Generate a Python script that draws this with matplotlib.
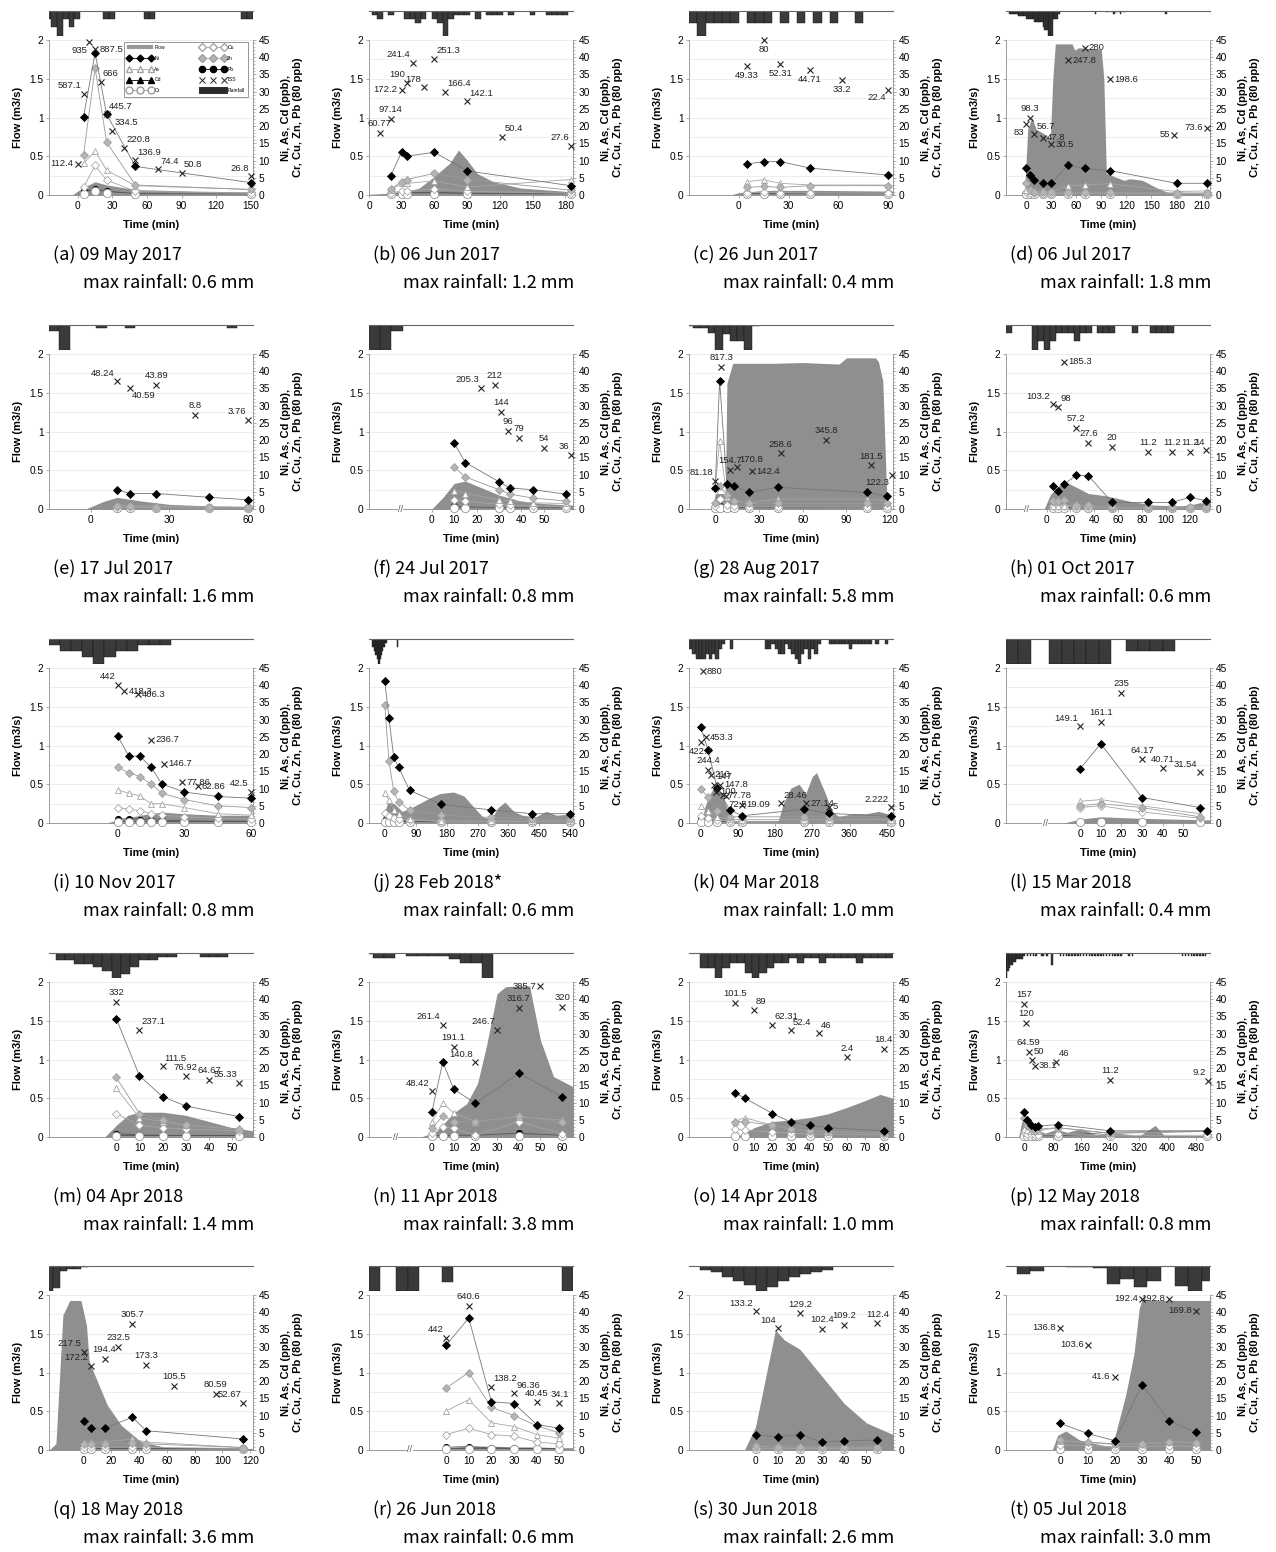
import matplotlib
matplotlib.use("Agg")
import matplotlib.pyplot as plt
from matplotlib.lines import Line2D
from matplotlib.ticker import MultipleLocator

plt.rcParams['font.family'] = ['Liberation Sans', 'DejaVu Sans']

PANELS = list('abcdefghijklmnopqrst')
DATES = ['09 May 2017', '06 Jun 2017', '26 Jun 2017', '06 Jul 2017',
         '17 Jul 2017', '24 Jul 2017', '28 Aug 2017', '01 Oct 2017',
         '10 Nov 2017', '28 Feb 2018*', '04 Mar 2018', '15 Mar 2018',
         '04 Apr 2018', '11 Apr 2018', '14 Apr 2018', '12 May 2018',
         '18 May 2018', '26 Jun 2018', '30 Jun 2018', '05 Jul 2018']
MAX_RAIN = [0.6, 1.2, 0.4, 1.8, 1.6, 0.8, 5.8, 0.6, 0.8, 0.6,
            1.0, 0.4, 1.4, 3.8, 1.0, 0.8, 3.6, 0.6, 2.6, 3.0]

XLIM = [(-25, 152), (0, 187), (-30, 93), (-24, 220), (-16, 62),
        (-28, 63), (-18, 122), (-34, 137), (-31, 61), (-46, 548),
        (-28, 465), (-36, 63), (-29, 59), (-29, 65), (-25, 85),
        (-50, 518), (-25, 122), (-34, 56), (-30, 62), (-20, 55)]
XTICKS = [[0, 30, 60, 90, 120, 150], [0, 30, 60, 90, 120, 150, 180],
          [0, 30, 60, 90], [0, 30, 60, 90, 120, 150, 180, 210],
          [0, 30, 60], [0, 10, 20, 30, 40, 50], [0, 30, 60, 90, 120],
          [0, 20, 40, 60, 80, 100, 120], [0, 30, 60],
          [0, 90, 180, 270, 360, 450, 540], [0, 90, 180, 270, 360, 450],
          [0, 10, 20, 30, 40, 50], [0, 10, 20, 30, 40, 50],
          [0, 10, 20, 30, 40, 50, 60], [0, 10, 20, 30, 40, 50, 60, 70, 80],
          [0, 80, 160, 240, 320, 400, 480], [0, 20, 40, 60, 80, 100, 120],
          [0, 10, 20, 30, 40, 50], [0, 10, 20, 30, 40, 50],
          [0, 10, 20, 30, 40, 50]]
BREAK_X = [None, None, None, None, None, -14, None, -17, None, None,
           None, -17, None, -17, None, None, None, -16, None, None]

# flow hydrograph (m3/s)
FLOW_T = [
    [-25, -5, 5, 15, 25, 50, 100, 152],
    [0, 30, 46, 60, 74, 82, 90, 99, 114, 139, 187],
    [-30, -5, 0, 10, 20, 45, 93],
    [-24, -2, 2, 7, 12, 20, 29, 32, 35, 55, 58, 63, 90, 93, 96, 105, 117, 124, 139, 155, 170, 220],
    [-16, -2, 5, 10, 20, 30, 45, 62],
    [-28, 0, 5, 10, 15, 20, 30, 40, 50, 63],
    [-18, -2, 0, 7, 8, 12, 40, 60, 85, 90, 110, 112, 115, 118, 122],
    [-34, -2, 3, 10, 17, 25, 35, 50, 70, 90, 110, 120, 128, 137],
    [-31, -5, 0, 10, 20, 30, 45, 61],
    [-46, -3, 0, 10, 30, 50, 70, 100, 130, 160, 200, 230, 260, 285, 310, 330, 350, 375, 400, 440, 470, 500, 548],
    [-28, 3, 10, 20, 35, 50, 70, 85, 186, 200, 218, 238, 254, 270, 280, 300, 318, 334, 366, 400, 430, 465],
    [-36, -8, 0, 10, 20, 30, 45, 63],
    [-29, -5, 0, 5, 10, 20, 30, 40, 50, 59],
    [-29, -5, 2, 10, 16, 21, 25, 30, 34, 40, 45, 50, 56, 65],
    [-25, 0, 5, 10, 20, 30, 40, 50, 60, 70, 78, 85],
    [-50, -15, -5, 5, 20, 40, 60, 90, 120, 160, 200, 240, 280, 320, 350, 365, 390, 420, 518],
    [-25, -20, -15, -10, -2, 2, 4, 10, 17, 27, 41, 60, 122],
    [-34, -3, 0, 10, 20, 30, 40, 50, 56],
    [-30, -5, 0, 5, 9, 13, 20, 30, 40, 50, 62],
    [-20, -3, -1, 2, 7, 15, 19, 24, 27, 29, 30, 40, 55],
]
FLOW_Q = [
    [0, 0, 0.1, 0.17, 0.13, 0.07, 0.05, 0.04],
    [0.01, 0.03, 0.09, 0.24, 0.41, 0.58, 0.45, 0.28, 0.17, 0.09, 0.04],
    [0, 0, 0.03, 0.05, 0.06, 0.06, 0.05],
    [0, 0, 0.85, 1.0, 0.85, 0.8, 0.73, 1.5, 1.95, 1.95, 1.87, 1.9, 1.88, 1.5, 0.28, 0.24, 0.19, 0.21, 0.19, 0.1, 0.03, 0.01],
    [0, 0, 0.1, 0.15, 0.1, 0.06, 0.04, 0.03],
    [0, 0, 0.15, 0.33, 0.36, 0.3, 0.18, 0.1, 0.07, 0.05],
    [0, 0, 0.2, 0.2, 1.62, 1.88, 1.88, 1.89, 1.87, 1.95, 1.95, 1.9, 1.65, 0, 0],
    [0, 0, 0.18, 0.3, 0.34, 0.28, 0.2, 0.17, 0.1, 0.05, 0.04, 0.05, 0.08, 0.08],
    [0, 0, 0.04, 0.1, 0.14, 0.12, 0.1, 0.1],
    [0, 0, 0.15, 0.28, 0.24, 0.15, 0.18, 0.25, 0.32, 0.38, 0.4, 0.35, 0.2, 0.08, 0.05, 0.2, 0.27, 0.15, 0.1, 0.08, 0.15, 0.1, 0.12],
    [0, 0, 0.2, 0.35, 0.48, 0.4, 0.1, 0, 0, 0.25, 0.45, 0.5, 0.38, 0.6, 0.65, 0.4, 0.15, 0.08, 0.12, 0.12, 0.15, 0.1],
    [0, 0, 0.05, 0.08, 0.07, 0.06, 0.05, 0.04],
    [0, 0, 0.15, 0.28, 0.32, 0.32, 0.28, 0.2, 0.12, 0.08],
    [0, 0, 0.07, 0.31, 0.43, 0.69, 1.16, 1.85, 1.94, 1.95, 1.95, 1.25, 0.78, 0.65],
    [0, 0, 0.05, 0.12, 0.2, 0.22, 0.25, 0.3, 0.38, 0.47, 0.55, 0.5],
    [0, 0, 0.22, 0.15, 0.1, 0.08, 0.05, 0.1, 0.06, 0.11, 0.03, 0.06, 0.04, 0.01, 0.1, 0.15, 0.02, 0.02, 0.02],
    [0, 0.08, 1.74, 1.93, 1.93, 1.61, 1.14, 0.88, 0.58, 0.32, 0.11, 0.03, 0.02],
    [0, 0, 0.03, 0.05, 0.05, 0.04, 0.04, 0.03, 0.03],
    [0, 0, 0.3, 1.0, 1.55, 1.42, 1.3, 0.95, 0.6, 0.35, 0.2],
    [0, 0, 0.19, 0.245, 0.13, 0.065, 0.04, 0.71, 1.23, 1.83, 1.94, 1.93, 1.93],
]

# metal sampling times (min) and concentrations on the right axis scale
MT = [
    [5, 15, 25, 50, 150], [20, 30, 35, 60, 90, 185], [5, 15, 25, 43, 90],
    [0, 5, 10, 20, 30, 50, 70, 100, 180, 217], [10, 15, 25, 45, 60],
    [10, 15, 30, 35, 45, 60], [0, 3, 8, 13, 23, 43, 104, 118],
    [5, 10, 15, 25, 35, 55, 85, 105, 120, 134], [0, 5, 10, 15, 20, 30, 45, 60],
    [0, 12, 26, 40, 72, 165, 310, 430, 540], [0, 18, 40, 70, 100, 250, 310, 460],
    [0, 10, 30, 58], [0, 10, 20, 30, 53], [0, 5, 10, 20, 40, 60],
    [0, 5, 20, 30, 40, 50, 80], [0, 9, 21, 30, 39, 95, 240, 511],
    [0, 5, 15, 35, 45, 115], [0, 10, 20, 30, 40, 50], [0, 10, 20, 30, 40, 55],
    [0, 10, 20, 30, 40, 50],
]
NI = [
    [22.7, 41.2, 23.4, 8.3, 3.6], [5.6, 12.6, 11.3, 12.4, 7.0, 2.7], [9.0, 9.7, 9.7, 7.8, 5.8],
    [7.7, 5.8, 4.4, 3.4, 3.4, 8.7, 7.7, 7.1, 3.4, 3.4], [5.6, 4.5, 4.5, 3.4, 2.7],
    [19.1, 13.5, 7.9, 6.1, 5.6, 4.3], [6.1, 37.3, 7.4, 6.8, 4.8, 6.3, 4.8, 3.8],
    [6.6, 5.1, 7.3, 9.8, 9.7, 1.9, 1.9, 1.9, 3.4, 2.4], [25.2, 19.4, 19.4, 16.2, 11.3, 9.0, 7.7, 7.2],
    [41.2, 30.6, 19.1, 16.2, 9.5, 5.4, 3.8, 2.7, 2.7], [27.8, 21.3, 10.2, 3.9, 2.1, 4.0, 2.8, 1.9],
    [15.8, 23.0, 7.4, 4.5], [34.4, 17.8, 11.7, 9.0, 5.9], [7.3, 21.8, 13.9, 9.8, 18.5, 11.7],
    [12.8, 11.3, 6.8, 4.3, 3.4, 2.7, 1.8], [7.2, 5.0, 3.6, 2.9, 3.2, 3.6, 1.8, 1.8],
    [8.4, 6.3, 6.3, 9.5, 5.6, 3.2], [30.4, 38.3, 14.0, 13.5, 7.4, 6.3], [4.5, 3.8, 4.5, 2.3, 2.7, 2.9],
    [7.7, 4.8, 2.7, 18.9, 8.4, 5.1],
]
CU = [
    [2.2, 8.6, 4.3, 1.1, 0.5], [0.7, 1.1, 1.1, 1.8, 1.1, 0.5], [0.7, 0.8, 0.7, 0.6, 0.5],
    [1.0, 0.6, 0.5, 0.4, 0.4, 0.5, 0.5, 0.5, 0.4, 0.4], [0.5, 0.5, 0.4, 0.3, 0.3],
    [2.7, 2.3, 1.4, 1.1, 0.9, 0.7], [1.0, 3.0, 1.2, 0.8, 0.6, 0.6, 0.5, 0.5],
    [0.8, 0.8, 0.8, 0.5, 0.5, 0.3, 0.3, 0.3, 0.3, 0.3], [4.5, 4.0, 3.6, 2.7, 2.3, 1.8, 1.4, 1.1],
    [2.9, 2.0, 1.5, 1.2, 0.8, 0.5, 0.5, 0.5, 0.5], [2.0, 1.5, 1.0, 0.5, 0.5, 0.5, 0.5, 0.5],
    [4.5, 5.0, 3.2, 1.4], [6.8, 3.4, 2.7, 2.3, 1.8], [1.1, 3.0, 2.5, 0.5, 4.5, 0.9],
    [2.3, 2.0, 1.5, 1.1, 0.9, 0.8, 0.6], [1.5, 1.0, 0.8, 0.7, 0.7, 0.8, 0.5, 0.5],
    [0.8, 0.8, 0.8, 0.9, 0.8, 0.4], [4.5, 6.3, 4.5, 4.0, 2.3, 1.8], [0.6, 0.6, 0.6, 0.6, 0.6, 0.6],
    [1.5, 1.2, 1.0, 1.0, 1.2, 1.0],
]
ZN = [
    [11.7, 36.9, 15.3, 2.9, 1.6], [1.8, 3.8, 4.5, 6.3, 4.5, 1.4], [2.2, 2.5, 2.2, 2.7, 2.7],
    [3.4, 1.5, 1.0, 0.8, 0.8, 0.8, 0.8, 0.8, 0.6, 0.6], [0.9, 0.8, 0.7, 0.5, 0.5],
    [12.2, 9.3, 5.6, 4.3, 3.2, 2.3], [1.8, 6.7, 4.0, 2.3, 1.6, 1.6, 1.6, 1.6],
    [2.2, 2.2, 2.7, 1.1, 1.1, 0.5, 0.5, 0.5, 0.5, 0.5], [16.2, 14.6, 13.5, 11.3, 8.6, 6.8, 5.0, 4.5],
    [34.2, 18.0, 9.2, 6.1, 3.8, 2.3, 1.6, 1.1, 1.1], [9.9, 7.5, 3.6, 1.8, 1.8, 1.8, 1.8, 1.8],
    [5.0, 5.6, 4.5, 1.8], [17.3, 6.8, 5.0, 3.4, 2.3], [2.5, 6.1, 4.5, 4.3, 6.1, 4.3],
    [4.5, 4.5, 3.4, 2.3, 1.8, 1.6, 1.1], [5.6, 3.4, 2.3, 1.8, 2.3, 2.7, 1.1, 1.6],
    [1.8, 1.8, 1.8, 2.0, 1.8, 0.7], [18.0, 22.5, 12.4, 10.0, 7.0, 5.0], [1.2, 1.0, 1.0, 0.8, 0.9, 0.9],
    [2.9, 2.3, 1.8, 1.8, 2.3, 2.0],
]
AS = [
    [9.2, 12.8, 7.2, 2.7, 1.6], [1.4, 3.4, 3.4, 4.1, 2.3, 4.5], [3.9, 4.4, 3.4, 2.9, 2.9],
    [1.5, 1.2, 1.2, 1.0, 1.0, 2.7, 2.9, 3.3, 1.0, 1.2], [1.2, 1.0, 0.9, 0.6, 0.5],
    [5.2, 4.5, 2.7, 2.3, 1.8, 1.6], [6.3, 19.6, 3.4, 2.3, 1.8, 2.9, 2.9, 2.3],
    [1.0, 1.0, 1.0, 0.8, 0.8, 0.5, 0.5, 0.5, 0.5, 0.5], [9.7, 8.6, 7.9, 5.6, 5.6, 4.5, 2.7, 2.3],
    [8.6, 6.8, 3.8, 2.7, 1.1, 0.5, 0.5, 0.5, 0.5], [4.9, 3.6, 1.8, 1.1, 1.0, 1.0, 1.0, 1.0],
    [6.3, 6.8, 5.0, 2.7], [14.2, 5.6, 4.5, 3.4, 2.3], [4.5, 9.8, 7.0, 4.5, 5.9, 4.9],
    [4.5, 5.6, 3.4, 2.3, 1.8, 1.4, 1.1], [2.3, 2.0, 1.8, 1.6, 1.8, 2.7, 1.1, 1.8],
    [2.3, 2.3, 2.3, 3.2, 2.3, 0.7], [11.3, 14.6, 7.9, 6.8, 4.5, 3.4], [1.0, 0.9, 0.9, 0.8, 0.8, 0.8],
    [2.6, 2.2, 1.6, 1.8, 2.4, 2.2],
]
CD = [
    [1.0, 1.5, 1.0, 0.3, 0.2], [0.4, 0.5, 0.5, 0.6, 0.4, 0.2], [0.3, 0.3, 0.3, 0.3, 0.3],
    [0.3, 0.3, 0.3, 0.3, 0.3, 0.3, 0.3, 0.3, 0.3, 0.3], [0.2, 0.2, 0.2, 0.2, 0.2],
    [0.4, 0.4, 0.3, 0.3, 0.3, 0.2], [0.3, 0.3, 0.3, 0.3, 0.3, 0.3, 0.3, 0.3],
    [0.3, 0.3, 0.3, 0.3, 0.3, 0.2, 0.2, 0.2, 0.2, 0.2], [0.5, 0.5, 0.5, 0.5, 0.5, 0.5, 0.5, 0.5],
    [1.8, 1.8, 1.8, 1.8, 0.3, 0.2, 0.2, 0.2, 0.2], [1.1, 1.1, 0.5, 0.3, 0.3, 0.3, 0.3, 0.3],
    [0.3, 0.3, 0.3, 0.3], [0.5, 0.5, 0.5, 0.5, 0.5], [0.3, 0.3, 0.3, 0.3, 0.3, 0.3],
    [0.3, 0.3, 0.3, 0.3, 0.3, 0.3, 0.3], [0.5, 0.4, 0.3, 0.3, 0.3, 0.3, 1.4, 1.6],
    [0.3, 0.3, 0.3, 0.3, 0.3, 0.3], [0.5, 0.5, 0.5, 0.5, 0.5, 0.5], [0.3, 0.3, 0.3, 0.3, 0.3, 0.3],
    [0.3, 0.3, 0.3, 0.3, 0.3, 0.3],
]
PB = [
    [1.1, 1.6, 1.1, 0.4, 0.2], [0.5, 0.6, 0.6, 0.8, 0.5, 0.3], [0.4, 0.4, 0.4, 0.3, 0.3],
    [0.4, 0.4, 0.4, 0.4, 0.4, 0.4, 0.4, 0.4, 0.4, 0.4], [0.3, 0.3, 0.3, 0.3, 0.3],
    [0.8, 0.6, 0.4, 0.4, 0.3, 0.3], [0.6, 1.0, 0.5, 0.4, 0.4, 0.4, 0.4, 0.4],
    [0.4, 0.4, 0.4, 0.4, 0.4, 0.3, 0.3, 0.3, 0.3, 0.3], [1.2, 1.2, 1.0, 1.0, 0.8, 0.6, 0.5, 0.5],
    [0.5, 0.5, 0.5, 0.5, 0.5, 0.5, 0.5, 0.5, 0.5], [1.3, 1.0, 0.6, 0.4, 0.3, 0.3, 0.3, 0.3],
    [0.4, 0.4, 0.4, 0.4], [1.0, 0.6, 0.5, 0.4, 0.3], [0.4, 0.5, 0.5, 0.5, 1.1, 0.5],
    [0.4, 0.4, 0.4, 0.4, 0.4, 0.4, 0.4], [0.4, 0.4, 0.4, 0.4, 0.4, 0.4, 0.4, 0.4],
    [0.5, 0.5, 0.5, 0.5, 0.5, 0.5], [0.8, 1.0, 0.6, 0.5, 0.4, 0.4], [0.4, 0.4, 0.4, 0.4, 0.4, 0.4],
    [0.4, 0.4, 0.4, 0.4, 0.4, 0.4],
]
CR = [
    [0.3, 1.1, 0.7, 0.2, 0.2], [0.2, 0.3, 0.3, 0.3, 0.2, 0.2], [0.2, 0.2, 0.2, 0.2, 0.2],
    [0.2, 0.2, 0.2, 0.2, 0.2, 0.2, 0.2, 0.2, 0.2, 0.2], [0.2, 0.2, 0.2, 0.2, 0.2],
    [0.3, 0.3, 0.2, 0.2, 0.2, 0.2], [0.2, 0.2, 0.2, 0.2, 0.2, 0.2, 0.2, 0.2],
    [0.2, 0.2, 0.2, 0.2, 0.2, 0.2, 0.2, 0.2, 0.2, 0.2], [0.3, 0.3, 0.3, 0.3, 0.3, 0.3, 0.3, 0.3],
    [0.3, 0.3, 0.3, 0.3, 0.3, 0.3, 0.3, 0.3, 0.3], [0.3, 0.3, 0.3, 0.3, 0.3, 0.3, 0.3, 0.3],
    [0.2, 0.2, 0.2, 0.2], [0.3, 0.3, 0.3, 0.3, 0.3], [0.2, 0.2, 0.2, 0.2, 0.2, 0.2],
    [0.2, 0.2, 0.2, 0.2, 0.2, 0.2, 0.2], [0.2, 0.2, 0.2, 0.2, 0.2, 0.2, 0.2, 0.2],
    [0.2, 0.2, 0.2, 0.2, 0.2, 0.2], [0.3, 0.3, 0.3, 0.3, 0.3, 0.3], [0.2, 0.2, 0.2, 0.2, 0.2, 0.2],
    [0.2, 0.2, 0.2, 0.2, 0.2, 0.2],
]

# TSS (mg/L), plotted on a hidden axis per event
TSS_T = [
    [0, 5, 10, 15, 20, 25, 30, 40, 50, 70, 90, 150],
    [10, 20, 30, 35, 40, 50, 60, 70, 90, 122, 185],
    [5, 15, 25, 43, 62, 90],
    [0, 5, 10, 20, 30, 50, 70, 100, 177, 217],
    [10, 15, 25, 40, 60],
    [22, 28, 31, 34, 39, 50, 62],
    [0, 4, 10, 15, 25, 45, 76, 107, 121],
    [5, 10, 15, 25, 35, 55, 85, 105, 120, 134],
    [0, 3, 9, 15, 21, 29, 36, 60],
    [],
    [0, 5, 12, 18, 24, 32, 38, 46, 55, 62, 100, 195, 255, 310, 460],
    [0, 10, 20, 30, 40, 58],
    [0, 10, 20, 30, 40, 53],
    [0, 5, 10, 20, 30, 40, 50, 60],
    [0, 10, 20, 30, 45, 60, 80],
    [0, 5, 13, 22, 30, 90, 240, 512],
    [0, 5, 15, 25, 35, 45, 65, 95, 115],
    [0, 10, 20, 30, 40, 50],
    [0, 10, 20, 30, 40, 55],
    [0, 10, 20, 30, 40, 50],
]
TSS = [
    [112.4, 587.1, 935, 887.5, 666, 445.7, 334.5, 220.8, 136.9, 74.4, 50.8, 26.8],
    [60.77, 97.14, 172.2, 190, 241.4, 178, 251.3, 166.4, 142.1, 50.4, 27.6],
    [49.33, 80, 52.31, 44.71, 33.2, 22.4],
    [83, 98.3, 56.7, 47.8, 30.5, 247.8, 280, 198.6, 55, 73.6],
    [48.24, 40.59, 43.89, 8.8, 3.76],
    [205.3, 212, 144, 96, 79, 54, 36],
    [81.18, 817.3, 154.7, 170.8, 142.4, 258.6, 345.8, 181.5, 122.3],
    [103.2, 98, 185.3, 57.2, 27.6, 20, 11.2, 11.2, 11.2, 14],
    [442, 418.3, 406.3, 236.7, 146.7, 77.86, 62.86, 42.5],
    [],
    [422.7, 880, 453.3, 244.4, 210, 147, 100, 147.8, 77.78, 72.5, 19.09, 28.46, 27.14, 5, 2.222],
    [149.1, 161.1, 235, 64.17, 40.71, 31.54],
    [332, 237.1, 111.5, 76.92, 64.67, 55.33],
    [48.42, 261.4, 191.1, 140.8, 246.7, 316.7, 385.7, 320],
    [101.5, 89, 62.31, 52.4, 46, 2.4, 18.4],
    [157, 120, 64.59, 50, 38.1, 46, 11.2, 9.2],
    [217.5, 172.2, 194.4, 232.5, 305.7, 173.3, 105.5, 80.59, 52.67],
    [442, 640.6, 138.2, 96.36, 40.45, 34.1],
    [133.2, 104, 129.2, 102.4, 109.2, 112.4],
    [136.8, 103.6, 41.6, 192.4, 192.8, 169.8],
]
TSS_LIM = [(-100, 950), (-100, 300), (-100, 80), (-100, 300), (-100, 80),
           (-100, 290), (-100, 900), (-100, 200), (-75, 505), (-100, 100),
           (-100, 900), (-100, 300), (-130, 400), (-100, 400), (-143, 140),
           (-100, 200), (-100, 400), (-255, 708), (-100, 160), (-100, 200)]

# rainfall bins: start time (min), bin width, depth (mm)
RAIN_DT = [5, 5, 5, 2, 4, 5, 5, 5, 5, 3, 8, 6, 4, 5, 4, 4, 5, 5, 5, 5]
RAIN_T = [
    [-28, -23, -18, -13, -8, -3, 22, 27, 57, 62, 142, 147],
    [2.5, 7.5, 17.5, 32.5, 37.5, 42.5, 47.5, 57.5, 62.5, 67.5, 72.5, 77.5, 82.5, 87.5, 97.5,
     107.5, 112.5, 117.5, 127.5, 147.5, 162.5, 167.5, 172.5, 177.5],
    [-30, -25, -20, -15, -10, -5, 5, 10, 15, 25, 35, 45, 55, 70],
    [-20, -18, -16, -14, -12, -10, -8, -6, -4, -2, 0, 2, 4, 6, 8, 10, 12, 14, 16, 18, 20, 22,
     24, 26, 28, 30, 32, 34, 36, 38, 82, 96, 100, 104, 108, 112, 116, 166],
    [-16, -12, 2, 13, 52],
    [-28, -23, -18],
    [-20, -15, -10, -5, 0, 5, 10, 15, 20, 25],
    [-34, -12, -7, -2, 3, 8, 13, 18, 23, 28, 33, 42, 47, 52, 72, 87, 92, 97, 102],
    [-31, -26, -21, -16, -11, -6, -1, 4, 9, 14, 19],
    [-38, -35, -32, -29, -26, -23, -20, -17, -14, -11, -8, -5, -2, 1, 4, 36],
    [-28, -20, -12, -4, 4, 12, 20, 28, 36, 44, 52, 70, 155, 163, 171, 179, 187, 195, 203, 211,
     219, 227, 235, 243, 251, 259, 267, 275, 283, 310, 318, 326, 334, 342, 350, 358, 366, 374,
     382, 390, 398, 406, 422, 445],
    [-36, -30, -15, -9, -3, 3, 9, 22, 28, 34, 40],
    [-26, -22, -18, -14, -10, -6, -2, 2, 6, 10, 14, 18, 22, 36, 40, 44],
    [-31, -27, -22, -12, -7, -2, 3, 8, 13, 18, 23],
    [-19, -15, -11, -7, -3, 1, 5, 9, 13, 17, 21, 25, 29, 33, 37, 41, 45, 49, 53, 57, 61, 65,
     69, 73, 77, 81],
    [-50, -46, -42, -38, -34, -30, -26, -22, -18, -14, -10, -6, -2, 8, 16, 24, 32, 48, 52, 60,
     64, 76, 100, 108, 116, 124, 132, 140, 148, 156, 164, 172, 180, 188, 196, 204, 212, 220,
     228, 236, 244, 252, 260, 268, 290, 300, 440, 448, 456, 464, 472, 480, 488, 496, 504],
    [-27, -22, -17, -12, -7, -2],
    [-34, -22, -17, -2, 51],
    [-25, -20, -15, -10, -5, 0, 5, 10, 15, 20, 25, 30],
    [-16, -11, 2, 7, 12, 17, 22, 27, 32, 42, 47, 52],
]
RAIN = [
    [.2, .4, .6, .2, .4, .2, .2, .2, .2, .2, .2, .2],
    [.2, .4, .2, .4, .4, .6, .4, .4, .6, 1.2, .4, .2, .2, .2, .4, .2, .2, .2, .2, .2, .2, .2,
     .2, .2],
    [.2, .4, .2, .2, .2, .2, .2, .2, .2, .2, .2, .2, .2, .2],
    [.2, .2, .2, .2, .2, .4, .4, .4, .4, .4, .6, .6, .6, .6, .6, .8, .8, .8, .8, .8, 1.2, 1.4,
     1.4, 1.8, 1.8, 1.8, .6, .6, .6, .2, .2, .1, .1, .2, .1, .2, .1, .2],
    [.4, 1.6, .2, .2, .2],
    [.8, .8, .2],
    [.2, .6, .6, 1.8, 5.8, 2.2, 3.9, 3.7, 5.8, .2],
    [.2, .6, .4, .6, .4, .2, .2, .2, .4, .2, .2, .2, .2, .2, .2, .2, .2, .2, .2],
    [.2, .4, .4, .6, .8, .6, .4, .4, .2, .2, .2],
    [.2, .2, .3, .4, .4, .5, .6, .6, .5, .4, .3, .2, .2, .1, .1, .2],
    [.4, .6, .8, .8, .8, .6, .8, .6, .8, .4, .2, .4, .4, .4, .2, .4, .6, .6, .2, .4, .6, .8,
     1.0, .6, .4, .8, .4, .6, .2, .2, .2, .2, .2, .2, .2, .4, .2, .2, .2, .2, .2, .2, .2, .2],
    [.4, .4, .4, .4, .4, .4, .4, .2, .2, .2, .2],
    [.4, .4, .6, .6, .8, 1.0, 1.4, 1.2, .8, .4, .4, .2, .2, .2, .2, .2],
    [.2, .7, .7, .4, .4, .4, .4, .9, 1.6, 1.6, 3.8],
    [.6, .6, 1.0, .6, .4, .4, .8, 1.0, .8, .6, .4, .4, .2, .4, .2, .2, .4, .2, .2, .2, .2, .4,
     .2, .2, .2, .2],
    [.8, .6, .5, .4, .4, .3, .3, .2, .2, .2, .2, .2, .1, .1, .1, .1, .1, .1, .1, .1, .1, .4,
     .1, .1, .1, .1, .1, .1, .1, .1, .1, .1, .1, .1, .1, .1, .1, .1, .1, .1, .1, .1, .1, .1,
     .1, .1, .1, .1, .1, .1, .1, .1, .1, .1, .1],
    [3.6, 3.2, .8, .4, .4, .2],
    [.6, .6, .6, .4, .6],
    [.4, .6, 1.2, 1.6, 2.0, 2.6, 2.2, 1.6, 1.2, .8, .6, .4],
    [1.0, .6, .1, .1, .2, 2.2, 1.6, 2.6, 1.8, 2.4, 3.0, 1.8],
]

# ---- layout / style ----
W, H = 1276, 1552
COL_X = [49, 369, 689, 1006]
ROW_Y = [40, 354, 668, 982, 1295]
AX_W, AX_H = 204, 155
FLOW_C = '#8f8f8f'
SPINE_C = '#8a8a8a'
CAP_FONT = ['Noto Sans CJK KR', 'DejaVu Sans']

# where each TSS label sits relative to its marker
LABEL_POS = [
    'l al bl r ar ar ar ar ar ar ar al',
    'a a l al al al ar ar ar ar al',
    'b b b b b bl',
    'bl a ar r r r r r l l',
    'al br a a al',
    'al a a a a a al',
    'al a a ar r a a a bl',
    'al ar r a a a a a a al',
    'al r r r r r r al',
    '',
    'b r r a r ar r r r br r ar r r al',
    'al a a a a al',
    'a ar ar a a al',
    'al al a al al a l a',
    'a ar ar ar ar a a',
    'a a a ar r ar a al',
    'al al a a a a a a al',
    'al a ar ar a a',
    'al al a a a a',
    'l l l l l l',
]
OFFS = {'a': ((0, 3.5), 'center', 'bottom'), 'ar': ((1.5, 2.5), 'left', 'bottom'),
        'al': ((-1.5, 2.5), 'right', 'bottom'), 'r': ((3, 0), 'left', 'center'),
        'l': ((-3, 0), 'right', 'center'), 'b': ((0, -3.5), 'center', 'top'),
        'bl': ((-1.5, -2.5), 'right', 'top'), 'br': ((1.5, -2.5), 'left', 'top')}

# name, data, marker, face, edge, size, line colour
METALS = [
    ('Cd', CD, '^', 'black', 'black', 4, '#555555'),
    ('Pb', PB, 'o', 'black', 'black', 4.5, '#555555'),
    ('Cr', CR, 'o', 'white', '#999999', 6, '#999999'),
    ('Cu', CU, 'D', 'white', '#a5a5a5', 4, '#a5a5a5'),
    ('As', AS, '^', 'white', '#a5a5a5', 5, '#a5a5a5'),
    ('Zn', ZN, 'D', '#b5b5b5', '#a0a0a0', 4, '#999999'),
    ('Ni', NI, 'D', 'black', 'black', 4, '#777777'),
]


def rect(x, y, w, h):
    return [x / W, 1 - (y + h) / H, w / W, h / H]


fig = plt.figure(figsize=(W / 100, H / 100), dpi=100)

for i, p in enumerate(PANELS):
    r, c = divmod(i, 4)
    x0, y0 = COL_X[c], ROW_Y[r]

    # rainfall hyetograph hanging from the top
    rax = fig.add_axes(rect(x0, y0 - 29, AX_W, 25))
    rax.bar(RAIN_T[i], RAIN[i], width=RAIN_DT[i], align='edge', color='#3a3a3a',
            edgecolor='#111111', linewidth=0.3)
    rax.set_xlim(XLIM[i])
    rax.set_ylim(MAX_RAIN[i] * 1.02, 0)
    for s in ['left', 'right', 'bottom']:
        rax.spines[s].set_visible(False)
    rax.spines['top'].set_color('#666666')
    rax.spines['top'].set_linewidth(0.8)
    rax.set_xticks([])
    rax.set_yticks([])
    rax.patch.set_alpha(0)

    ax = fig.add_axes(rect(x0, y0, AX_W, AX_H))
    ax.set_xlim(XLIM[i])
    ax.set_ylim(0, 2)
    ax.fill_between(FLOW_T[i], FLOW_Q[i], 0, color=FLOW_C, lw=0, zorder=2)
    ax.set_yticks([0, 0.5, 1, 1.5, 2])
    ax.set_yticklabels(['0', '0.5', '1', '1.5', '2'])
    ax.yaxis.set_minor_locator(MultipleLocator(0.25))
    ax.grid(axis='y', which='both', color='#e6e6e6', lw=0.5, zorder=0)
    ax.set_axisbelow(True)
    ax.set_xticks(XTICKS[i])
    ax.tick_params(axis='both', which='major', labelsize=7.3, length=2.5, width=0.5,
                   color=SPINE_C, pad=1.5)
    ax.tick_params(axis='y', which='minor', length=0)
    for s in ['top', 'right']:
        ax.spines[s].set_visible(False)
    for s in ['left', 'bottom']:
        ax.spines[s].set_color(SPINE_C)
        ax.spines[s].set_linewidth(0.6)
    if BREAK_X[i] is not None:
        ax.text(BREAK_X[i], 0, '//', fontsize=6.5, ha='center', va='center', color='#555555',
                bbox=dict(fc='white', ec='none', pad=0.2), clip_on=False, zorder=5)

    ax2 = ax.twinx()
    ax2.set_ylim(0, 45)
    ax2.set_yticks(range(0, 46, 5))
    ax2.yaxis.set_minor_locator(MultipleLocator(1))
    ax2.tick_params(axis='y', which='major', labelsize=7.3, length=2.5, width=0.5,
                    color=SPINE_C, pad=1.5)
    ax2.tick_params(axis='y', which='minor', length=1.5, width=0.4, color=SPINE_C)
    for s in ['top', 'left', 'bottom']:
        ax2.spines[s].set_visible(False)
    ax2.spines['right'].set_color(SPINE_C)
    ax2.spines['right'].set_linewidth(0.6)
    for name, data, mk, fc, ec, ms, lc in METALS:
        ax2.plot(MT[i], data[i], color=lc, lw=0.6, marker=mk, mfc=fc, mec=ec, ms=ms,
                 mew=0.6, clip_on=False, zorder=3)

    ax3 = ax.twinx()
    ax3.set_ylim(TSS_LIM[i])
    ax3.axis('off')
    ax3.plot(TSS_T[i], TSS[i], ls='none', marker='x', color='#222222', ms=5, mew=0.8,
             clip_on=False)
    for t, v, code in zip(TSS_T[i], TSS[i], LABEL_POS[i].split()):
        off, ha, va = OFFS[code]
        ax3.annotate(f'{v:g}', (t, v), xytext=off, textcoords='offset points', ha=ha,
                     va=va, fontsize=6.8, color='#222222', annotation_clip=False)

    # axis titles and captions
    fig.text((x0 - 31) / W, 1 - (y0 + AX_H / 2) / H, 'Flow (m3/s)', rotation=90,
             ha='center', va='center', fontsize=8, fontweight='bold')
    fig.text((x0 + AX_W + 39) / W, 1 - (y0 + AX_H / 2) / H,
             'Ni, As, Cd (ppb),\nCr, Cu, Zn, Pb (80 ppb)', rotation=90, ha='center',
             va='center', fontsize=8, fontweight='bold', linespacing=1.15)
    fig.text((x0 + AX_W / 2) / W, 1 - (y0 + AX_H + 30) / H, 'Time (min)', ha='center',
             va='center', fontsize=8, fontweight='bold')
    fig.text((x0 + 4) / W, 1 - (y0 + AX_H + 60) / H, f'({p}) {DATES[i]}', ha='left',
             va='center', fontsize=13, family=CAP_FONT)
    fig.text((x0 + 34) / W, 1 - (y0 + AX_H + 88) / H,
             f'max rainfall: {MAX_RAIN[i]:.1f} mm', ha='left', va='center', fontsize=13,
             family=CAP_FONT)

    if p == 'a':
        handles = [
            Line2D([], [], color='#999999', lw=3),
            Line2D([], [], color='black', lw=0.6, marker='D', mfc='black', mec='black', ms=3.5),
            Line2D([], [], color='#a5a5a5', lw=0.6, marker='^', mfc='white', mec='#a5a5a5', ms=4.5),
            Line2D([], [], color='black', lw=0.6, marker='^', mfc='black', mec='black', ms=4),
            Line2D([], [], color='#999999', lw=0.6, marker='o', mfc='white', mec='#999999', ms=5),
            Line2D([], [], color='#a5a5a5', lw=0.6, marker='D', mfc='white', mec='#a5a5a5', ms=4),
            Line2D([], [], color='#a5a5a5', lw=0.6, marker='D', mfc='#b5b5b5', mec='#a0a0a0', ms=4),
            Line2D([], [], color='black', lw=0.6, marker='o', mfc='black', mec='black', ms=4.5),
            Line2D([], [], ls='none', marker='x', color='#222222', ms=4.5, mew=0.7),
            Line2D([], [], color='#2a2a2a', lw=5),
        ]
        labels = ['Flow', 'Ni', 'As', 'Cd', 'Cr', 'Cu', 'Zn', 'Pb', 'TSS', 'Rainfall']
        leg = ax3.legend(handles, labels, ncol=2, fontsize=3.6, numpoints=3,
                         handlelength=5, handletextpad=0.3, columnspacing=0.8,
                         labelspacing=1.15, borderpad=0.7, loc='upper left',
                         bbox_to_anchor=(0.37, 0.6, 0.605, 0.39), mode='expand',
                         borderaxespad=0, fancybox=False, framealpha=1)
        leg.get_frame().set_edgecolor('#888888')
        leg.get_frame().set_linewidth(0.6)

fig.savefig('out.png', dpi=100)
